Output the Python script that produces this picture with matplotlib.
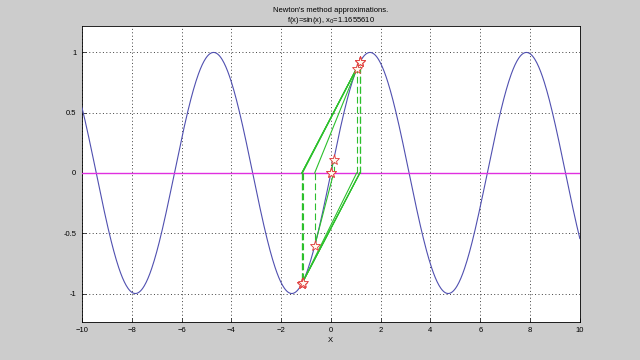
import numpy as np
import matplotlib
matplotlib.use('Agg')
import matplotlib.pyplot as plt

plt.rcParams['font.family'] = ['Liberation Sans', 'DejaVu Sans']

# newton iterates for f(x)=sin(x), x0=1.1655610
iter_x = [1.1655610, -1.1655602, 1.1655557, -1.1655311, 1.1653972, -1.1646840,
          1.1608060, -1.1399000, 1.0354000, -0.6503000, 0.1105000, -0.0004500, 0.0]
iter_y = [0.91921, -0.91921, 0.91921, -0.91920, 0.91915, -0.91887,
          0.91733, -0.90880, 0.85980, -0.60540, 0.11030, -0.00045, 0.0]

x_min, x_max = -10, 10
x_ticks = [-10, -8, -6, -4, -2, 0, 2, 4, 6, 8, 10]
y_ticks = [-1, -0.5, 0, 0.5, 1]
y_tick_labels = ['-1', '-0.5', '0', '0.5', '1']

fig = plt.figure(figsize=(6.4, 3.6), dpi=100, facecolor='#cccccc')
ax = fig.add_axes([0.128, 0.106, 0.778, 0.822])
ax.set_axisbelow(True)

xs = np.linspace(x_min, x_max, 800)
ax.plot(xs, np.sin(xs), color='#5050b0', lw=0.8, zorder=3)
ax.plot([x_min, x_max], [0, 0], color='#e030e0', lw=1.0, zorder=3.5)

green = '#2cc02c'
for i in range(len(iter_x) - 1):
    ax.plot([iter_x[i], iter_x[i + 1]], [iter_y[i], 0], color=green, lw=0.8, zorder=4)
    ax.plot([iter_x[i + 1], iter_x[i + 1]], [0, iter_y[i + 1]], color=green,
            lw=0.8, dashes=(6, 3), zorder=4)

ax.plot(iter_x, iter_y, ls='none', marker='*', ms=8, mfc='#fffaf0',
        mec='#e03838', mew=0.6, zorder=5)

ax.set_xlim(x_min, x_max)
ax.set_ylim(-1.235, 1.22)
ax.set_xticks(x_ticks)
ax.set_yticks(y_ticks)
ax.set_yticklabels(y_tick_labels)
ax.tick_params(direction='in', labelsize=5.5, length=3, width=0.5, pad=4)
ax.grid(True, color='#404040', lw=0.7, dashes=(1, 2.5))
for s in ax.spines.values():
    s.set_linewidth(0.6)

ax.set_title("Newton's method approximations.\nf(x)=sin(x), x$_0$=1.1655610",
             fontsize=5.5, pad=3, linespacing=1.1)
ax.set_xlabel('X', fontsize=5.5, labelpad=2)

fig.savefig('out.png', dpi=100, facecolor=fig.get_facecolor())
